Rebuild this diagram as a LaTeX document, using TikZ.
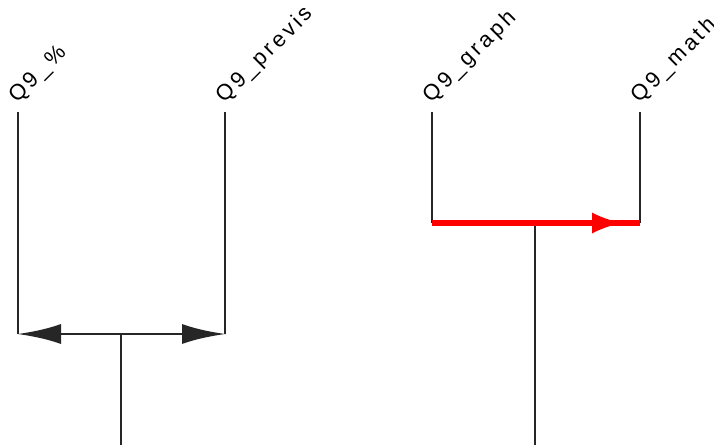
\documentclass[tikz,border=0pt]{standalone}
\usepackage{fontspec}
\setmainfont{Liberation Sans}
\usetikzlibrary{arrows.meta}
\def\lsp#1{\lspA#1\relax}
\def\lspA#1{\ifx#1\relax\else#1\kern3.2pt\expandafter\lspA\fi}
\pgfdeclarearrow{
  name = Concave,
  parameters = {\the\pgfarrowlength,\the\pgfarrowwidth},
  setup code = {
    \pgfarrowssettipend{0pt}
    \pgfarrowssetbackend{-\pgfarrowlength}
    \pgfarrowssetlineend{-0.5\pgfarrowlength}
    \pgfarrowssavethe\pgfarrowlength
    \pgfarrowssavethe\pgfarrowwidth
  },
  drawing code = {
    \pgfpathmoveto{\pgfpoint{0pt}{0pt}}
    \pgfpathcurveto{\pgfpoint{-0.4\pgfarrowlength}{0.12\pgfarrowwidth}}{\pgfpoint{-0.75\pgfarrowlength}{0.3\pgfarrowwidth}}{\pgfpoint{-\pgfarrowlength}{0.5\pgfarrowwidth}}
    \pgfpathlineto{\pgfpoint{-\pgfarrowlength}{-0.5\pgfarrowwidth}}
    \pgfpathcurveto{\pgfpoint{-0.75\pgfarrowlength}{-0.3\pgfarrowwidth}}{\pgfpoint{-0.4\pgfarrowlength}{-0.12\pgfarrowwidth}}{\pgfpoint{0pt}{0pt}}
    \pgfpathclose
    \pgfusepathqfill
  },
  defaults = {length=40pt, width=20pt}
}
\begin{document}
\begin{tikzpicture}[x=1pt,y=-1pt,
  lbl/.style={rotate=45, anchor=base west, inner sep=0pt,
    font=\fontsize{22}{25}\selectfont},
  branch/.style={line width=1.3pt, draw=black!85},
  hot/.style={line width=6pt, draw=red, color=red}]
\useasboundingbox (0,0) rectangle (714,445);
\clip (0,0) rectangle (714,445);
\fill[white] (0,0) rectangle (714,445);
% labels
\node[lbl] (l1) at (17.5,104) {\lsp{Q9\_\%}};
\node[lbl] (l2) at (224.5,104) {\lsp{Q9\_previs}};
\node[lbl] (l3) at (431.5,104) {\lsp{Q9\_graph}};
\node[lbl] (l4) at (639.5,104) {\lsp{Q9\_math}};
% coordinates
\coordinate (a1) at (18,112);
\coordinate (a2) at (225,112);
\coordinate (b1) at (432,112);
\coordinate (b2) at (640,112);
\coordinate (ca1) at (18,334);
\coordinate (ca2) at (225,334);
\coordinate (cb1) at (432,223);
\coordinate (cb2) at (640,223);
\coordinate (ja) at (121,334);
\coordinate (jb) at (535,223);
\coordinate (ra) at (121,445);
\coordinate (rb) at (535,445);
\coordinate (redtip) at (622,223);
% left cluster
\draw[branch] (a1) -- (ca1);
\draw[branch] (a2) -- (ca2);
\draw[branch] (ja) -- (ra);
\draw[branch, -{Concave[length=43pt,width=20pt]}] (ja) -- (ca1);
\draw[branch, -{Concave[length=43pt,width=20pt]}] (ja) -- (ca2);
% right cluster
\draw[branch] (b1) -- (cb1);
\draw[branch] (b2) -- (cb2);
\draw[branch] (jb) -- (rb);
\draw[hot] (cb1) -- (cb2);
\draw[hot, -{Concave[length=30pt,width=21pt]}] (jb) -- (redtip);
\end{tikzpicture}
\end{document}
